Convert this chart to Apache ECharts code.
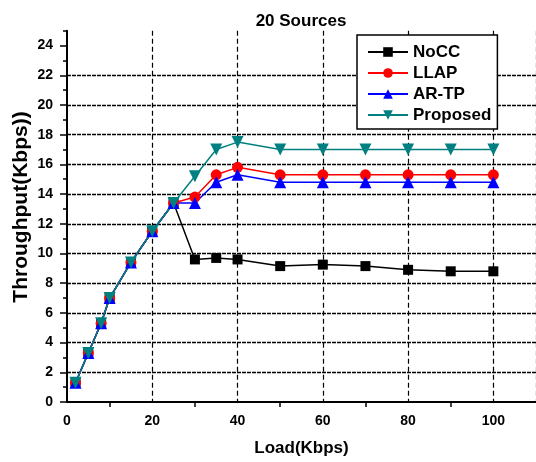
<!DOCTYPE html>
<html>
<head>
<meta charset="utf-8">
<script src="https://cdn.jsdelivr.net/npm/echarts@6/dist/echarts.min.js"></script>
<style>
  html, body { margin: 0; padding: 0; background: #fff; }
  #chart { width: 536px; height: 462px; }
</style>
</head>
<body>
<div id="chart"></div>
<script>
// Throughput versus offered load, 20 sources
const loads    = [2, 5, 8, 10, 15, 20, 25, 30, 35, 40, 50, 60, 70, 80, 90, 100];
const nocc     = [1.3, 3.3, 5.3, 7.0, 9.4, 11.5, 13.4, 9.6, 9.7, 9.6, 9.15, 9.25, 9.15, 8.9, 8.8, 8.8];
const llap     = [1.3, 3.3, 5.3, 7.0, 9.4, 11.5, 13.4, 13.8, 15.3, 15.8, 15.3, 15.3, 15.3, 15.3, 15.3, 15.3];
const artp     = [1.3, 3.3, 5.3, 7.0, 9.4, 11.5, 13.4, 13.4, 14.8, 15.3, 14.8, 14.8, 14.8, 14.8, 14.8, 14.8];
const proposed = [1.3, 3.3, 5.3, 7.0, 9.4, 11.5, 13.4, 15.2, 17.0, 17.5, 17.0, 17.0, 17.0, 17.0, 17.0, 17.0];

const xTicks = [0, 20, 40, 60, 80, 100];
const xMinorTicks = [10, 30, 50, 70, 90];
const yTicks = [0, 2, 4, 6, 8, 10, 12, 14, 16, 18, 20, 22, 24];
const yMinorTicks = [1, 3, 5, 7, 9, 11, 13, 15, 17, 19, 21, 23, 25];

const FONT = '"Liberation Sans", Arial, sans-serif';

const pairs = ys => loads.map((x, i) => [x, ys[i]]);

const chart = echarts.init(document.getElementById('chart'), null, { renderer: 'canvas' });

const seriesDefs = [
  { name: 'NoCC', data: nocc, color: '#000000', symbol: 'rect', size: 10, rotate: 0 },
  { name: 'LLAP', data: llap, color: '#ff0000', symbol: 'circle', size: 11, rotate: 0 },
  { name: 'AR-TP', data: artp, color: '#0000ff', symbol: 'triangle', size: 12, rotate: 0 },
  { name: 'Proposed', data: proposed, color: '#008080', symbol: 'triangle', size: 12, rotate: 180 }
];

chart.setOption({
  animation: false,
  backgroundColor: '#fff',
  grid: { left: 67, top: 30.7, width: 473, height: 374.6, containLabel: false },
  graphic: [
    {
      type: 'text', x: 301, y: 21,
      style: { text: '20 Sources', font: 'bold 17px ' + FONT, fill: '#000', align: 'center', verticalAlign: 'middle' }
    },
    {
      type: 'text', x: 21.5, y: 207, rotation: Math.PI / 2,
      style: { text: 'Throughput(Kbps))', font: 'bold 21px ' + FONT, fill: '#000', align: 'center', verticalAlign: 'middle' }
    }
  ],
  legend: {
    orient: 'vertical',
    left: 357, top: 35,
    padding: [7, 6, 4, 10],
    itemWidth: 40, itemHeight: 12, itemGap: 1,
    backgroundColor: '#fff',
    borderColor: '#000', borderWidth: 1.5, borderRadius: 0,
    textStyle: { fontFamily: FONT, fontSize: 17, fontWeight: 'bold', color: '#000', lineHeight: 20 },
    data: seriesDefs.map(s => s.name)
  },
  xAxis: [
    {
      type: 'value', min: 0, max: 110, interval: 20,
      name: 'Load(Kbps)', nameLocation: 'middle', nameGap: 38,
      nameTextStyle: { fontFamily: FONT, fontSize: 17, fontWeight: 'bold', color: '#000' },
      axisLine: { show: true, onZero: false, lineStyle: { color: '#000', width: 2 } },
      axisTick: { show: false },
      axisLabel: {
        margin: 12, fontFamily: FONT, fontSize: 14, fontWeight: 'bold', color: '#000',
        customValues: xTicks,
        formatter: v => (xTicks.includes(v) ? String(v) : '')
      },
      splitLine: { show: true, showMinLine: false, lineStyle: { color: '#000', width: 1.2, type: [5, 3] } }
    },
    {
      type: 'value', min: 0, max: 110, interval: 10, position: 'bottom',
      axisLine: { show: false },
      axisTick: { show: true, inside: false, length: 5, customValues: xMinorTicks, lineStyle: { color: '#000', width: 1.5 } },
      axisLabel: { show: false },
      splitLine: { show: false }
    }
  ],
  yAxis: [
    {
      type: 'value', min: 0, max: 25, interval: 2,
      axisLine: { show: true, onZero: false, lineStyle: { color: '#000', width: 2 } },
      axisTick: { show: true, inside: false, length: 7, customValues: yTicks, lineStyle: { color: '#000', width: 1.5 } },
      axisLabel: {
        margin: 14, fontFamily: FONT, fontSize: 14, fontWeight: 'bold', color: '#000',
        customValues: yTicks,
        formatter: v => (yTicks.includes(v) ? String(v) : '')
      },
      splitLine: { show: true, showMinLine: false, showMaxLine: false, lineStyle: { color: '#000', width: 1.4, type: [4, 1] } }
    },
    {
      type: 'value', min: 0, max: 25, interval: 1, position: 'left',
      axisLine: { show: false },
      axisTick: { show: true, inside: false, length: 4, customValues: yMinorTicks, lineStyle: { color: '#000', width: 1.5 } },
      axisLabel: { show: false },
      splitLine: { show: false }
    }
  ],
  series: seriesDefs.map(s => ({
    name: s.name,
    type: 'line',
    xAxisIndex: 0,
    yAxisIndex: 0,
    data: pairs(s.data),
    symbol: s.symbol,
    symbolSize: s.size,
    symbolRotate: s.rotate,
    showAllSymbol: true,
    lineStyle: { color: s.color, width: 1.5 },
    itemStyle: { color: s.color },
    emphasis: { disabled: true }
  }))
});
</script>
</body>
</html>
